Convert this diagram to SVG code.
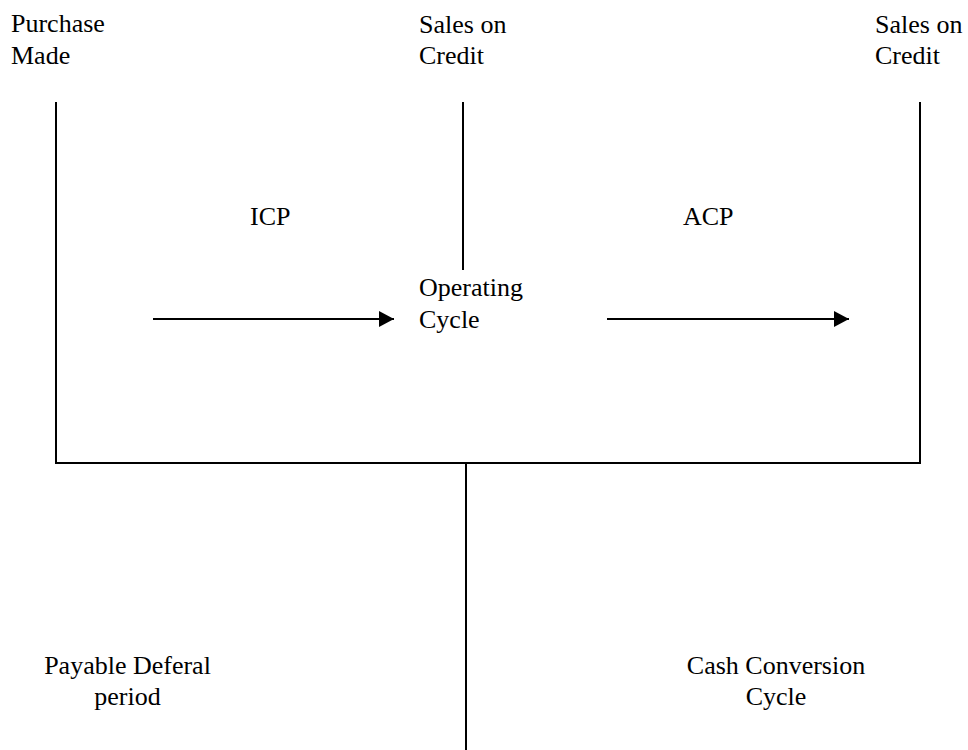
<svg xmlns="http://www.w3.org/2000/svg" width="968" height="750" viewBox="0 0 968 750">
<style>
  text { font-family: "Liberation Serif", "Times New Roman", serif; font-size: 26px; fill: #000; }
  .ln { stroke: #000; stroke-width: 2; fill: none; }
  .c { text-anchor: middle; }
</style>
<defs>
  <marker id="ah" markerUnits="userSpaceOnUse" markerWidth="16" markerHeight="16" refX="15" refY="8" orient="auto">
    <path d="M0,0 L15,8 L0,16 z" fill="#000"/>
  </marker>
</defs>
<rect width="968" height="750" fill="#fff"/>
<g id="connectors">
  <line class="ln" x1="56" y1="102" x2="56" y2="463"/>
  <line class="ln" x1="463" y1="102" x2="463" y2="270"/>
  <line class="ln" x1="920" y1="102" x2="920" y2="463"/>
  <line class="ln" x1="55" y1="463" x2="921" y2="463"/>
  <line class="ln" x1="466" y1="463" x2="466" y2="750"/>
  <line class="ln" x1="153" y1="319" x2="394" y2="319" marker-end="url(#ah)"/>
  <line class="ln" x1="607" y1="319" x2="849" y2="319" marker-end="url(#ah)"/>
</g>
<g id="purchase-made">
  <text x="11" y="32">Purchase</text>
  <text x="11" y="64">Made</text>
</g>
<g id="sales-on-credit-1">
  <text x="419" y="33">Sales on</text>
  <text x="419" y="64">Credit</text>
</g>
<g id="sales-on-credit-2">
  <text x="875" y="33">Sales on</text>
  <text x="875" y="64">Credit</text>
</g>
<g id="icp"><text x="250" y="225">ICP</text></g>
<g id="acp"><text x="683" y="225">ACP</text></g>
<g id="operating-cycle">
  <text x="419" y="296">Operating</text>
  <text x="419" y="328">Cycle</text>
</g>
<g id="payable-deferal">
  <text class="c" x="127.5" y="674">Payable Deferal</text>
  <text class="c" x="127.5" y="705">period</text>
</g>
<g id="cash-conversion">
  <text class="c" x="776" y="674">Cash Conversion</text>
  <text class="c" x="776" y="705">Cycle</text>
</g>
</svg>
